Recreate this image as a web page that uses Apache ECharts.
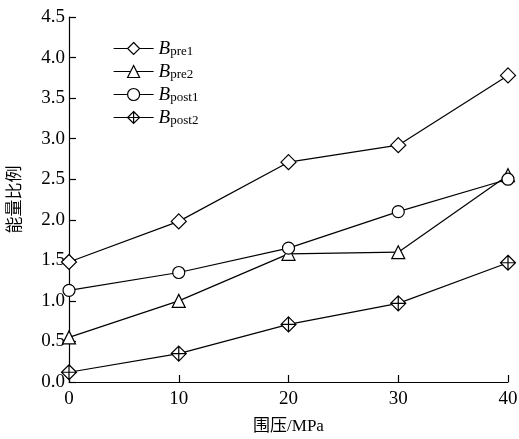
<!DOCTYPE html>
<html>
<head>
<meta charset="utf-8">
<script src="https://cdn.jsdelivr.net/npm/echarts@6/dist/echarts.min.js"></script>
<style>
  html, body { margin: 0; padding: 0; background: #fff; }
  #main { width: 519px; height: 439px; }
</style>
</head>
<body>
<div id="main"></div>
<script>
// 围压 (MPa)
const pressures = [0, 10, 20, 30, 40];
// 能量比例
const bPre1 = [1.48, 1.98, 2.71, 2.92, 3.78];
const bPre2 = [0.55, 1.00, 1.58, 1.60, 2.55];
const bPost1 = [1.13, 1.35, 1.65, 2.10, 2.50];
const bPost2 = [0.12, 0.35, 0.71, 0.97, 1.47];
const seriesNames = ['pre1', 'pre2', 'post1', 'post2'];

const FONT = '"Liberation Serif", "Noto Sans CJK SC", serif';
const crossDiamond = 'path://M0,-1 L1,0 L0,1 L-1,0 Z M0,-1 L0,1 M-1,0 L1,0';

const myChart = echarts.init(document.getElementById('main'), null, { renderer: 'canvas' });

function makeSeries(name, values, symbol, size) {
  return {
    name: name,
    type: 'line',
    data: pressures.map((p, i) => [p, values[i]]),
    symbol: symbol,
    symbolSize: size,
    showAllSymbol: true,
    clip: false,
    lineStyle: { color: '#000', width: 1.2 },
    itemStyle: { color: '#fff', borderColor: '#000', borderWidth: 1.2 },
    emphasis: { disabled: true },
    z: 3
  };
}

myChart.setOption({
  animation: false,
  textStyle: { fontFamily: FONT, color: '#000' },
  grid: { left: 69, right: 11, top: 17, bottom: 57, outerBoundsMode: 'none', containLabel: false },
  legend: {
    orient: 'vertical',
    left: 108,
    top: 32,
    itemWidth: 40,
    itemHeight: 15,
    itemGap: 2,
    data: seriesNames,
    lineStyle: { width: 1.2 },
    itemStyle: { borderWidth: 1.2 },
    formatter: n => '{b|B}{s|' + n + '}',
    textStyle: {
      rich: {
        b: { fontFamily: FONT, fontStyle: 'italic', fontSize: 19, color: '#000', lineHeight: 19 },
        s: { fontFamily: FONT, fontSize: 13, color: '#000', verticalAlign: 'bottom', lineHeight: 19, padding: [8, 0, 0, 0] }
      }
    }
  },
  xAxis: {
    type: 'value',
    min: 0,
    max: 40,
    interval: 10,
    name: '围压/MPa',
    nameLocation: 'middle',
    nameGap: 36,
    nameTextStyle: { fontSize: 17, color: '#000', fontFamily: FONT },
    axisLine: { lineStyle: { color: '#000', width: 1.2 } },
    axisTick: { inside: true, length: 7, lineStyle: { color: '#000', width: 1.2 } },
    axisLabel: { fontSize: 19, color: '#000', margin: 8 },
    splitLine: { show: false }
  },
  yAxis: {
    type: 'value',
    min: 0,
    max: 4.5,
    interval: 0.5,
    name: '能量比例',
    nameLocation: 'middle',
    nameRotate: 90,
    nameGap: 45,
    nameTextStyle: { fontSize: 17, color: '#000', fontFamily: FONT },
    axisLine: { show: true, lineStyle: { color: '#000', width: 1.2 } },
    axisTick: { show: true, inside: true, length: 7, lineStyle: { color: '#000', width: 1.2 } },
    axisLabel: { fontSize: 19, color: '#000', margin: 4, formatter: v => v.toFixed(1) },
    splitLine: { show: false }
  },
  series: [
    makeSeries('pre1', bPre1, 'diamond', 15),
    makeSeries('pre2', bPre2, 'triangle', 13),
    makeSeries('post1', bPost1, 'circle', 12),
    makeSeries('post2', bPost2, crossDiamond, 15)
  ]
});
</script>
</body>
</html>
